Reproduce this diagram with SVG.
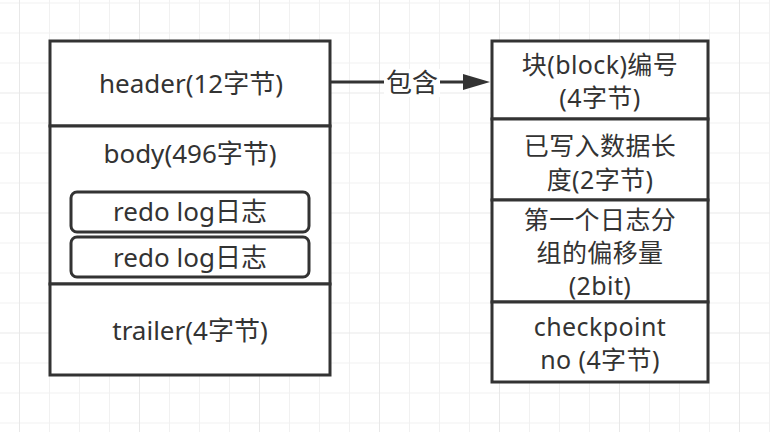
<svg xmlns="http://www.w3.org/2000/svg" width="770" height="432" viewBox="0 0 770 432">
<style>
.box{fill:#ffffff;stroke:#333333;stroke-width:3}
.rbox{fill:#ffffff;stroke:#333333;stroke-width:3}
.t{font-family:"Noto Sans","Noto Sans CJK SC",sans-serif;font-size:26px;fill:#333333;text-anchor:middle}
.m{font-family:"Noto Sans","Noto Sans CJK SC",sans-serif;font-size:25px;letter-spacing:0.4px;fill:#333333;text-anchor:middle}
.conn{stroke:#333333;stroke-width:3;fill:none}
</style>
<defs>
<pattern id="grid" patternUnits="userSpaceOnUse" x="19" y="-27.5" width="120" height="120">
<rect x="30" y="0" width="1" height="120" fill="#f1f1f1"/>
<rect x="60" y="0" width="1" height="120" fill="#f1f1f1"/>
<rect x="90" y="0" width="1" height="120" fill="#f1f1f1"/>
<rect x="0" y="30" width="120" height="1" fill="#f1f1f1"/>
<rect x="0" y="60" width="120" height="1" fill="#f1f1f1"/>
<rect x="0" y="90" width="120" height="1" fill="#f1f1f1"/>
<rect x="0" y="0" width="1" height="120" fill="#e8e8e8"/>
<rect x="0" y="0" width="120" height="1" fill="#e8e8e8"/>
</pattern>
</defs>
<rect x="0" y="0" width="770" height="432" fill="#ffffff"/>
<rect x="0" y="0" width="770" height="432" fill="url(#grid)"/>

<g id="connectors">
<line class="conn" x1="330" y1="82" x2="465" y2="82"/>
<polygon points="463,74 490,82 463,90" fill="#333333"/>
<rect x="384" y="69" width="56" height="28" fill="#ffffff"/>
<text class="t" x="412" y="92">包含</text>
</g>

<g id="header">
<rect class="box" x="50" y="41" width="280" height="85"/>
<text class="t" x="191" y="93">header(12字节)</text>
</g>
<g id="body">
<rect class="box" x="50" y="126" width="280" height="158"/>
<text class="t" x="190" y="163">body(496字节)</text>
</g>
<g id="redo1">
<rect class="rbox" x="71" y="192" width="238" height="40" rx="6"/>
<text class="t" x="190" y="221">redo log日志</text>
</g>
<g id="redo2">
<rect class="rbox" x="71" y="237" width="238" height="40" rx="6"/>
<text class="t" x="190" y="267">redo log日志</text>
</g>
<g id="trailer">
<rect class="box" x="50" y="284" width="280" height="91"/>
<text class="t" x="190" y="340">trailer(4字节)</text>
</g>

<g id="blockno">
<rect class="box" x="492" y="41" width="216" height="78"/>
<text class="m"><tspan x="600" y="74">块(block)编号</tspan><tspan x="600" y="107">(4字节)</tspan></text>
</g>
<g id="datalen">
<rect class="box" x="492" y="119" width="216" height="81"/>
<text class="m"><tspan x="600" y="155">已写入数据长</tspan><tspan x="600" y="189">度(2字节)</tspan></text>
</g>
<g id="offset">
<rect class="box" x="492" y="200" width="216" height="102"/>
<text class="m"><tspan x="600" y="229">第一个日志分</tspan><tspan x="600" y="262">组的偏移量</tspan><tspan x="600" y="295">(2bit)</tspan></text>
</g>
<g id="checkpoint">
<rect class="box" x="492" y="302" width="216" height="80"/>
<text class="m"><tspan x="600" y="336">checkpoint</tspan><tspan x="600" y="369">no (4字节)</tspan></text>
</g>
</svg>
